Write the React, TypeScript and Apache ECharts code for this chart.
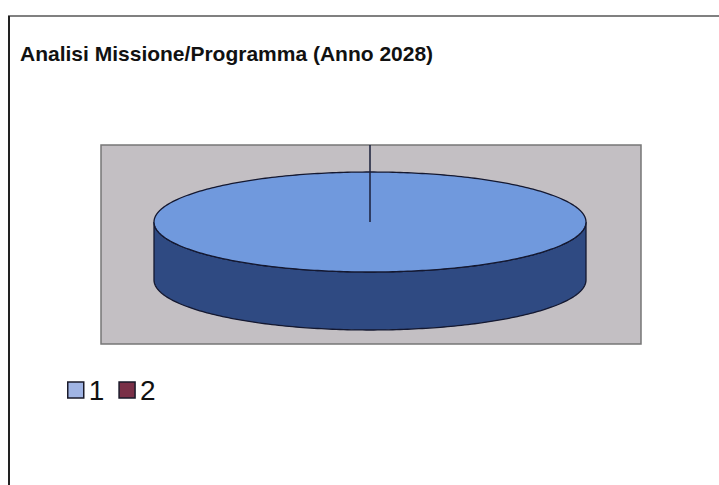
import React, { useEffect, useRef } from "react";
import * as echarts from "echarts";

const titleText = "Analisi Missione/Programma (Anno 2028)";
const sliceNames = ["1", "2"];
const sliceValues = [100, 0];
const sliceTopColors = ["#7099dd", "#8a3a55"];
const sliceSideColors = ["#2f4a82", "#5a2035"];
const legendColors = ["#a0b4e4", "#7a3048"];

// pie geometry (layout)
const CX = 370;
const CY = 222;
const RX = 216;
const RY = 50;
const DEPTH = 58;
const PLOT = { x: 101, y: 145, w: 540, h: 199 };

function pt(theta: number, dy = 0): number[] {
  return [CX + RX * Math.sin(theta), CY - RY * Math.cos(theta) + dy];
}

function makeRenderItem(idx: number) {
  return (params: any, api: any) => {
    const total = sliceValues.reduce((a, b) => a + b, 0);
    const before = sliceValues.slice(0, idx).reduce((a, b) => a + b, 0);
    const v = api.value(0);
    const a0 = (before / total) * Math.PI * 2;
    const a1 = ((before + v) / total) * Math.PI * 2;
    const children: any[] = [];
    if (v <= 0) {
      const p = pt(a0);
      const ang = a0;
      // zero slice: radial edge drawn up to the plot frame
      const endY = PLOT.y;
      const t = (CY - endY);
      children.push({
        type: "line",
        shape: { x1: CX, y1: CY, x2: CX + Math.tan(ang) * t, y2: endY },
        style: { stroke: "#1a1f3a", lineWidth: 1.5 },
      });
      void p;
      return { type: "group", children };
    }
    const N = 180;
    // side wall (front half only)
    const s0 = Math.max(a0, Math.PI / 2);
    const s1 = Math.min(a1, (Math.PI * 3) / 2);
    if (s1 > s0) {
      const pts: number[][] = [];
      for (let i = 0; i <= N; i++) pts.push(pt(s0 + ((s1 - s0) * i) / N));
      for (let i = N; i >= 0; i--) pts.push(pt(s0 + ((s1 - s0) * i) / N, DEPTH));
      children.push({
        type: "polygon",
        shape: { points: pts },
        style: { fill: sliceSideColors[idx], stroke: "#141830", lineWidth: 1.3 },
      });
    }
    // top face
    const top: number[][] = [];
    const full = a1 - a0 >= Math.PI * 2 - 1e-6;
    if (!full) top.push([CX, CY]);
    for (let i = 0; i <= N * 2; i++) top.push(pt(a0 + ((a1 - a0) * i) / (N * 2)));
    children.push({
      type: "polygon",
      shape: { points: top },
      style: { fill: sliceTopColors[idx], stroke: "#141830", lineWidth: 1.3 },
    });
    return { type: "group", children };
  };
}

export default function App() {
  const ref = useRef<HTMLDivElement>(null);
  useEffect(() => {
    if (!ref.current) return;
    const chart = echarts.init(ref.current, null, { renderer: "svg" });
    chart.setOption({
      animation: false,
      backgroundColor: "#ffffff",
      title: {
        text: titleText,
        left: 15,
        top: 38,
        textStyle: {
          fontFamily: "Liberation Sans, Arial, sans-serif",
          fontSize: 21,
          fontWeight: "bold",
          color: "#111111",
        },
      },
      legend: {
        left: 62,
        top: 371,
        itemWidth: 16,
        itemHeight: 16,
        itemGap: 14,
        icon: "rect",
        textStyle: {
          fontFamily: "Liberation Sans, Arial, sans-serif",
          fontSize: 28,
          color: "#111111",
        },
        data: sliceNames.map((n, i) => ({
          name: n,
          itemStyle: { color: legendColors[i], borderColor: "#1a1a2a", borderWidth: 1.5 },
        })),
      },
      graphic: [
        {
          type: "rect",
          z: -10,
          shape: { x: PLOT.x, y: PLOT.y, width: PLOT.w, height: PLOT.h },
          style: { fill: "#c3bfc3", stroke: "#777777", lineWidth: 1.5 },
        },
        {
          type: "line",
          shape: { x1: 8, y1: 16, x2: 719, y2: 16 },
          style: { stroke: "#808080", lineWidth: 2 },
        },
        {
          type: "line",
          shape: { x1: 9, y1: 16, x2: 9, y2: 485 },
          style: { stroke: "#222222", lineWidth: 2 },
        },
      ],
      series: sliceNames.map((n, i) => ({
        type: "custom",
        name: n,
        coordinateSystem: "none",
        itemStyle: { color: legendColors[i] },
        data: [[sliceValues[i]]],
        renderItem: makeRenderItem(i),
        z: 2 + i,
      })),
    });
    return () => chart.dispose();
  }, []);
  return (
    <div
      ref={ref}
      style={{ position: "fixed", left: 0, top: 0, width: 719, height: 485 }}
    />
  );
}
